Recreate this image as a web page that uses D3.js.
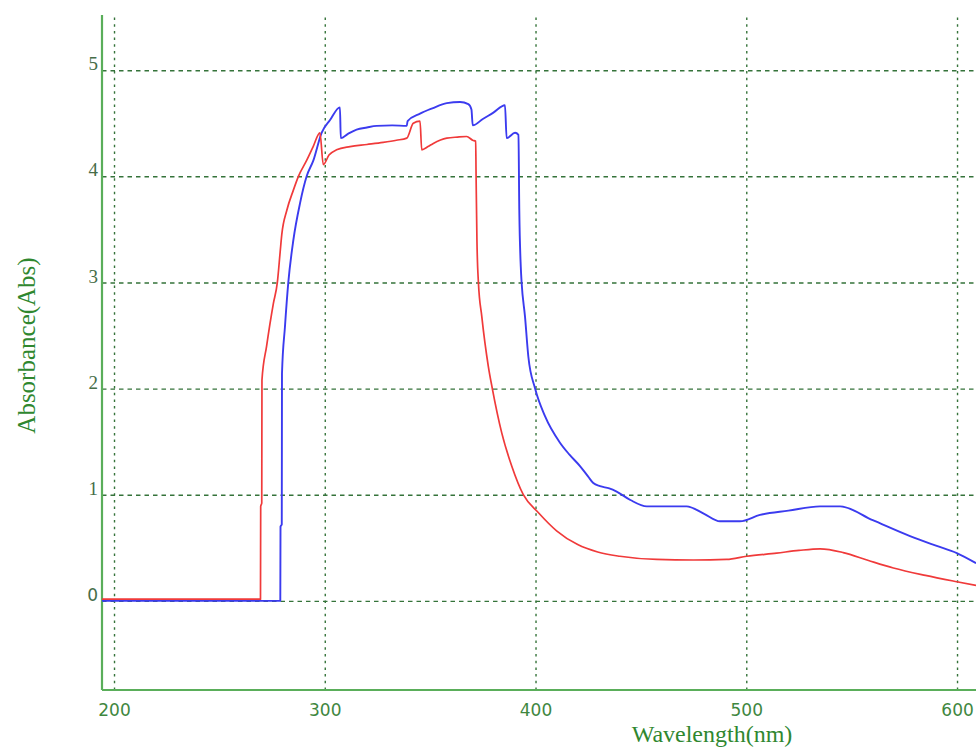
<!DOCTYPE html>
<html>
<head>
<meta charset="utf-8">
<script src="https://cdn.jsdelivr.net/npm/d3@7/dist/d3.min.js"></script>
<style>
  html, body { margin: 0; padding: 0; background: #ffffff; }
  svg { display: block; }
</style>
</head>
<body>
<svg id="chart" width="976" height="747"></svg>
<script>
// Tick labels
const xTicks = [200, 300, 400, 500, 600];
const yTicks = [0, 1, 2, 3, 4, 5];

// Red spectrum: wavelength (nm) and absorbance
const redWl = [194.3, 269.5, 269.6, 270.1, 270.2, 272.4, 275.6, 277.5, 278.8, 279.6, 282, 285.1, 287.5, 291.4, 294.5, 297.7,
  299.3, 302, 305.6, 312, 320, 327.7, 334, 338.9, 342, 345.2, 346, 349, 351.5, 357.9, 363, 367.3, 370.2, 371.6, 371.8, 372.2,
  372.9, 374.5, 377.6, 379.5, 384, 388.7, 394.2, 401.4, 410, 420, 429.5, 440, 457.5, 475, 490.7, 500.2, 514.4, 525, 535,
  546, 558, 569.8, 585, 599.9, 609];
const redAbs = [0.016, 0.016, 0.89, 0.92, 2.08, 2.40, 2.80, 3.0, 3.28, 3.45, 3.68, 3.87, 4.0, 4.15, 4.28, 4.41,
  4.11, 4.20, 4.25, 4.28, 4.30, 4.32, 4.34, 4.36, 4.50, 4.52, 4.25, 4.28, 4.31, 4.36, 4.37, 4.375, 4.34, 4.33, 4.0, 3.4,
  3.0, 2.68, 2.21, 2.0, 1.58, 1.27, 1.0, 0.83, 0.66, 0.53, 0.46, 0.42, 0.39, 0.385, 0.39, 0.42, 0.45, 0.475, 0.49,
  0.455, 0.38, 0.31, 0.24, 0.18, 0.145];

// Blue spectrum: wavelength (nm) and absorbance
const blueWl = [194.3, 278.9, 279.0, 279.6, 279.7, 281.1, 282.7, 285.1, 288.3, 291.4, 294.6, 298.5, 302.5, 307.2, 307.6,
  311, 315.1, 320, 324.6, 332, 338.9, 339.3, 345.2, 351, 357.9, 364.2, 368.1, 369.6, 370.2, 375, 380, 385.5, 386.3,
  390.3, 391.9, 392.3, 393, 393.4, 395, 396.6, 399.8, 404.5, 411.6, 416, 421.1, 425, 427.4, 430.6, 435, 438.5, 445,
  452.8, 471.7, 480, 487.5, 497, 506.5, 520, 535, 544.5, 560, 577.7, 590, 599.9, 609];
const blueAbs = [0, 0, 0.70, 0.72, 2.14, 2.58, 3.0, 3.40, 3.75, 4.0, 4.15, 4.41, 4.53, 4.65, 4.36,
  4.40, 4.44, 4.46, 4.475, 4.48, 4.475, 4.52, 4.59, 4.64, 4.69, 4.70, 4.68, 4.63, 4.48, 4.54, 4.60, 4.67, 4.36,
  4.41, 4.39, 3.68, 3.15, 3.0, 2.68, 2.30, 2.0, 1.74, 1.49, 1.38, 1.27, 1.17, 1.11, 1.08, 1.06, 1.03, 0.95,
  0.89, 0.89, 0.82, 0.75, 0.75, 0.81, 0.85, 0.89, 0.89, 0.76, 0.61, 0.52, 0.45, 0.355];

const svg = d3.select("#chart");
const plotLeft = 102, plotRight = 976, plotTop = 15, plotBottom = 690;

const x = d3.scaleLinear().domain([194.3, 609]).range([plotLeft, plotRight]);
const y = d3.scaleLinear().domain([-0.84, 5.52]).range([plotBottom, plotTop]);

// Vertical grid lines and wavelength labels
const gx = svg.append("g")
  .attr("transform", `translate(0,${plotBottom})`)
  .call(d3.axisBottom(x).tickValues(xTicks).tickSize(-(plotBottom - plotTop)).tickFormat(d3.format("d")));
gx.select(".domain").remove();
gx.selectAll(".tick line")
  .attr("stroke", "#35733a").attr("stroke-width", 1.4).attr("stroke-dasharray", "2.5,4.2");
gx.selectAll(".tick text")
  .attr("y", 26).attr("dy", null)
  .attr("fill", "#3f873f")
  .style("font-family", "'DejaVu Sans', sans-serif").style("font-size", "17px");

// Horizontal grid lines and absorbance labels
const gy = svg.append("g")
  .attr("transform", `translate(${plotLeft},0)`)
  .call(d3.axisLeft(y).tickValues(yTicks).tickSize(-(plotRight - plotLeft)).tickFormat(d3.format("d")));
gy.select(".domain").remove();
gy.selectAll(".tick line")
  .attr("stroke", "#35733a").attr("stroke-width", 1.4).attr("stroke-dasharray", "4.5,4");
gy.selectAll(".tick text")
  .attr("x", -4).attr("dy", "-0.02em")
  .attr("fill", "#466d48")
  .style("font-family", d => d === 0 ? "'DejaVu Sans', sans-serif" : "'Liberation Serif', serif")
  .style("font-size", d => d === 0 ? "17px" : "19px");

// Axis lines
svg.append("line").attr("x1", plotLeft).attr("x2", plotLeft).attr("y1", plotTop).attr("y2", plotBottom)
  .attr("stroke", "#5aae5a").attr("stroke-width", 2.2);
svg.append("line").attr("x1", plotLeft).attr("x2", plotRight).attr("y1", plotBottom).attr("y2", plotBottom)
  .attr("stroke", "#5aae5a").attr("stroke-width", 2.2);

// Clip spectra to plot area
svg.append("defs").append("clipPath").attr("id", "plot")
  .append("rect").attr("x", plotLeft).attr("y", plotTop)
  .attr("width", plotRight - plotLeft).attr("height", plotBottom - plotTop);

const line = d3.line().x(d => x(d[0])).y(d => y(d[1])).curve(d3.curveMonotoneX);
const blue = blueWl.map((w, i) => [w, blueAbs[i]]);
const red = redWl.map((w, i) => [w, redAbs[i]]);

svg.append("path").datum(blue).attr("d", line).attr("clip-path", "url(#plot)")
  .attr("fill", "none").attr("stroke", "#3b3bef").attr("stroke-width", 1.9).attr("stroke-linejoin", "round");
svg.append("path").datum(red).attr("d", line).attr("clip-path", "url(#plot)")
  .attr("fill", "none").attr("stroke", "#f03a3a").attr("stroke-width", 1.7).attr("stroke-linejoin", "round");

// Axis titles
svg.append("text").text("Wavelength(nm)")
  .attr("x", 712).attr("y", 742).attr("text-anchor", "middle")
  .attr("fill", "#2f872f")
  .style("font-family", "'Liberation Serif', serif").style("font-size", "24px");
svg.append("text").text("Absorbance(Abs)")
  .attr("transform", "translate(35,345.5) rotate(-90)").attr("text-anchor", "middle")
  .attr("fill", "#2f872f")
  .style("font-family", "'Liberation Serif', serif").style("font-size", "25px");
</script>
</body>
</html>
